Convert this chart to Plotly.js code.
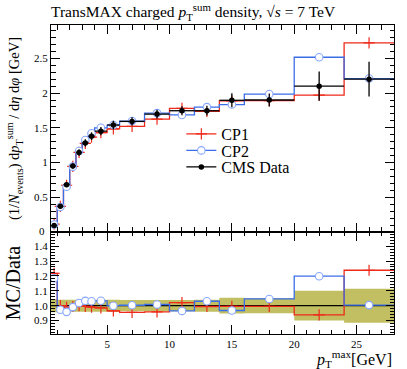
<!DOCTYPE html>
<html>
<head>
<meta charset="utf-8">
<script src="https://cdn.plot.ly/plotly-3.0.1.min.js"></script>
<style>html,body{margin:0;padding:0;background:#fff;}#plot{width:407px;height:369px;}</style>
</head>
<body>
<div id="plot"></div>
<script>
// bin edges in pT^max [GeV]
const binEdges = [0.5, 1, 1.5, 2, 2.5, 3, 3.5, 4, 5, 6, 8, 10, 12, 14, 16, 20, 24, 28];
// CMS data and its uncertainty
const cmsData = [0.092, 0.37, 0.68, 0.95, 1.145, 1.283, 1.38, 1.452, 1.54, 1.592, 1.697, 1.746, 1.746, 1.896, 1.90, 2.10, 2.20];
const cmsErr  = [0.004, 0.015, 0.027, 0.038, 0.046, 0.051, 0.055, 0.058, 0.062, 0.060, 0.064, 0.066, 0.070, 0.100, 0.095, 0.210, 0.250];
// Monte Carlo tunes
const cp1 = [0.112, 0.370, 0.673, 0.945, 1.145, 1.277, 1.366, 1.430, 1.486, 1.520, 1.626, 1.781, 1.737, 1.887, 1.891, 1.970, 2.724];
const cp2 = [0.109, 0.360, 0.652, 0.941, 1.166, 1.325, 1.421, 1.500, 1.540, 1.597, 1.711, 1.685, 1.798, 1.835, 1.986, 2.516, 2.209];
const xTickVals = [5, 10, 15, 20, 25];
const yTickVals = [0.5, 1, 1.5, 2, 2.5];
const yZeroLabel = '0';

const RED = '#ee2a1a', BLUE = '#3a6ee8', LBLUE = '#86a6ff', BAND = '#c1bf61';
const FONT = 'Liberation Serif, Times New Roman, serif';
const TOP_DOMAIN = [0.3301, 1];

const centers = binEdges.slice(0, -1).map((e, i) => (e + binEdges[i + 1]) / 2);
const halfW = binEdges.slice(0, -1).map((e, i) => (binEdges[i + 1] - e) / 2);
const stepY = v => v.concat([v[v.length - 1]]);
const ratio = v => v.map((y, i) => y / cmsData[i]);
const relErr = cmsErr.map((e, i) => e / cmsData[i]);

function stepTrace(vals, color, xa, ya) {
  return {x: binEdges, y: stepY(vals), mode: 'lines', line: {shape: 'hv', color: color, width: 1.3},
          xaxis: xa, yaxis: ya, showlegend: false, hoverinfo: 'skip'};
}
const cp1Marker = {symbol: 'cross-thin', size: 8, color: RED, line: {color: RED, width: 1.2}};
const cp2Marker = {symbol: 'circle', size: 7.5, color: '#ffffff', line: {color: LBLUE, width: 1.1}};
const dataMarker = {symbol: 'circle', size: 5.5, color: '#000'};

const traces = [
  stepTrace(cp1, RED, 'x', 'y'),
  {x: centers, y: cp1, mode: 'markers', marker: cp1Marker, xaxis: 'x', yaxis: 'y', showlegend: false},
  stepTrace(cp2, BLUE, 'x', 'y'),
  {x: centers, y: cp2, mode: 'markers', marker: cp2Marker, xaxis: 'x', yaxis: 'y', showlegend: false},
  {x: centers, y: cmsData, mode: 'markers', marker: dataMarker, xaxis: 'x', yaxis: 'y', showlegend: false,
   error_y: {type: 'data', array: cmsErr, color: '#000', thickness: 1.3, width: 0},
   error_x: {type: 'data', array: halfW, color: '#000', thickness: 1.3, width: 0}},
  // ratio panel
  {x: binEdges, y: stepY(relErr.map(r => 1 - r)), mode: 'lines', line: {shape: 'hv', width: 0, color: BAND},
   xaxis: 'x2', yaxis: 'y2', showlegend: false, hoverinfo: 'skip'},
  {x: binEdges, y: stepY(relErr.map(r => 1 + r)), mode: 'lines', line: {shape: 'hv', width: 0, color: BAND},
   fill: 'tonexty', fillcolor: BAND, xaxis: 'x2', yaxis: 'y2', showlegend: false, hoverinfo: 'skip'},
  stepTrace(ratio(cmsData), '#000', 'x2', 'y2'),
  stepTrace(ratio(cp1), RED, 'x2', 'y2'),
  {x: centers, y: ratio(cp1), mode: 'markers', marker: cp1Marker, xaxis: 'x2', yaxis: 'y2', showlegend: false},
  stepTrace(ratio(cp2), BLUE, 'x2', 'y2'),
  {x: centers, y: ratio(cp2), mode: 'markers', marker: cp2Marker, xaxis: 'x2', yaxis: 'y2', showlegend: false},
  // legend entries
  {x: [null], y: [null], name: 'CP1', mode: 'lines+markers', line: {color: RED, width: 1.3}, marker: cp1Marker, legend: 'legend'},
  {x: [null], y: [null], name: 'CP2', mode: 'lines+markers', line: {color: BLUE, width: 1.3}, marker: cp2Marker, legend: 'legend2'},
  {x: [null], y: [null], name: 'CMS Data', mode: 'lines+markers', line: {color: '#000', width: 1.3}, marker: dataMarker, legend: 'legend3'}
];

const tickCommon = {ticks: 'inside', ticklen: 9, tickwidth: 1, tickcolor: '#000', showline: true, linecolor: '#000',
  linewidth: 1, mirror: 'ticks', showgrid: false, zeroline: false,
  tickfont: {family: FONT, size: 11, color: '#000'}};

function legendAt(py) {
  return {x: 0.38, y: (334 - py) / 309, xanchor: 'left', yanchor: 'middle', bgcolor: 'rgba(0,0,0,0)',
          font: {family: FONT, size: 16, color: '#000'}, borderwidth: 0, tracegroupgap: 0};
}

const layout = {
  width: 407, height: 369,
  margin: {l: 51, r: 13, t: 25, b: 35},
  paper_bgcolor: '#fff', plot_bgcolor: '#fff',
  showlegend: true,
  title: {text: 'TransMAX charged <i>p</i><sub>T</sub><sup>sum</sup> density, √<i>s</i> = 7 TeV',
          font: {family: FONT, size: 15.5, color: '#000'}, xref: 'paper', x: 0, xanchor: 'left',
          yref: 'container', y: 1 - 12 / 369, yanchor: 'middle'},
  xaxis: Object.assign({}, tickCommon, {domain: [0, 1], anchor: 'y', range: [0.5, 28], matches: 'x2',
          tickmode: 'array', tickvals: xTickVals, showticklabels: false,
          minor: {ticks: 'inside', dtick: 1, tick0: 0, ticklen: 4.5, tickcolor: '#000', tickwidth: 1}}),
  yaxis: Object.assign({}, tickCommon, {domain: TOP_DOMAIN, anchor: 'x', range: [0, 2.98],
          tickmode: 'array', tickvals: yTickVals,
          minor: {ticks: 'inside', dtick: 0.1, tick0: 0, ticklen: 4.5, tickcolor: '#000', tickwidth: 1},
          title: {text: '(1/<i>N</i><sub>events</sub>) d<i>p</i><sub>T</sub><sup>sum</sup> / d<i>η</i> d<i>φ</i> [GeV]',
                  font: {family: FONT, size: 14.5, color: '#000'}, standoff: 10}}),
  xaxis2: Object.assign({}, tickCommon, {domain: [0, 1], anchor: 'y2', range: [0.5, 28],
          tickmode: 'array', tickvals: xTickVals,
          minor: {ticks: 'inside', dtick: 1, tick0: 0, ticklen: 4.5, tickcolor: '#000', tickwidth: 1}}),
  yaxis2: Object.assign({}, tickCommon, {domain: [0, TOP_DOMAIN[0]], anchor: 'x2', range: [0.81, 1.495],
          tickmode: 'linear', tick0: 0.9, dtick: 0.1, tickformat: '.1f', ticklen: 8,
          minor: {ticks: 'inside', dtick: 0.02, tick0: 0.9, ticklen: 4, tickcolor: '#000', tickwidth: 1},
          title: {text: 'MC/Data', font: {family: FONT, size: 20, color: '#000'}, standoff: 8}}),
  legend: legendAt(134),
  legend2: legendAt(150.5),
  legend3: legendAt(167),
  annotations: [
    {text: '<i>p</i><sub>T</sub><sup>max</sup>[GeV]', xref: 'paper', yref: 'paper', x: 1, y: 0,
     xanchor: 'right', yanchor: 'top', yshift: -12, showarrow: false,
     font: {family: FONT, size: 16, color: '#000'}},
    {text: yZeroLabel, xref: 'paper', yref: 'paper', x: 0, y: TOP_DOMAIN[0], xanchor: 'right', yanchor: 'middle',
     xshift: -4, yshift: 1, showarrow: false, font: {family: FONT, size: 11, color: '#000'}}
  ]
};

Plotly.newPlot('plot', traces, layout, {staticPlot: true, displayModeBar: false});
</script>
</body>
</html>
